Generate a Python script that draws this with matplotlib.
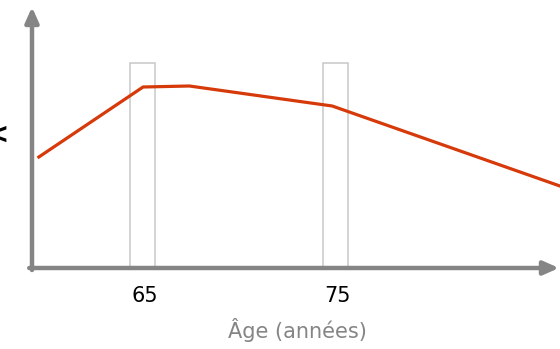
import matplotlib.pyplot as plt
from matplotlib.patches import Rectangle

# data
ages = [59.5, 64.9, 67.3, 74.7, 86.5]
values = [111, 181, 182, 162, 82]
highlight_ages = [65, 75]
tick_labels = ['65', '75']

fig = plt.figure(figsize=(5.6, 3.49), dpi=100)
ax = fig.add_axes([0, 0, 1, 1])
ax.set_xlim(57.487, 86.503)
ax.set_ylim(-81, 268)
ax.axis('off')

gray = '#858585'

# highlight boxes around 65 and 75
for a in highlight_ages:
    ax.add_patch(Rectangle((a - 0.8, 0), 1.33, 205, fill=False,
                           edgecolor='#c8c8c8', lw=1.1, zorder=1))

# the curve
ax.plot(ages, values, color='#d63a0a', lw=2.3, zorder=3, solid_joinstyle='miter')

# axes with arrows
arrow = dict(arrowstyle='-|>,head_width=0.4,head_length=0.9',
             color=gray, lw=3.2, shrinkA=0, shrinkB=0)
ax.annotate('', xy=(59.145, 261), xytext=(59.145, -2), arrowprops=arrow,
            annotation_clip=False, zorder=4)
ax.annotate('', xy=(86.45, 0), xytext=(59.0, 0), arrowprops=arrow,
            annotation_clip=False, zorder=4)

# tick labels and axis title
for a, lab in zip(highlight_ages, tick_labels):
    ax.text(a, -28, lab, ha='center', va='center', fontsize=15, color='black')
ax.text(297 / 19.3 + 57.487, -62, 'Âge (années)', ha='center', va='center',
        fontsize=15, color=gray)

# clipped mark at the left edge
fig.text(9 / 560, 1 - 135 / 349, '<', ha='right', va='center', fontsize=20,
         fontweight='bold', color='black')

fig.savefig('out.png', dpi=100)
